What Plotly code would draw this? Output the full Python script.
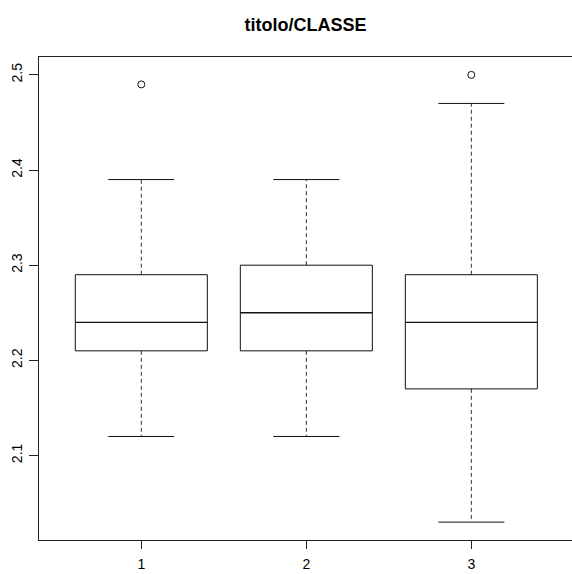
import plotly.graph_objects as go

# Five-number summaries per class
categories = [1, 2, 3]
lower_whisker = [2.12, 2.12, 2.03]
q1 = [2.21, 2.21, 2.17]
median = [2.24, 2.25, 2.24]
q3 = [2.29, 2.30, 2.29]
upper_whisker = [2.39, 2.39, 2.47]

# Points beyond the whiskers
outlier_x = [1, 3]
outlier_y = [2.49, 2.50]

y_ticks = [2.1, 2.2, 2.3, 2.4, 2.5]

BOX_HALF = 0.4
CAP_HALF = 0.2
LINE_COLOR = "#111111"
FONT = "Liberation Sans, Arial, Helvetica, sans-serif"

fig = go.Figure()

for i, c in enumerate(categories):
    # dashed whiskers
    fig.add_trace(go.Scatter(
        x=[c, c, None, c, c],
        y=[q3[i], upper_whisker[i], None, q1[i], lower_whisker[i]],
        mode="lines", line=dict(color="#333333", width=1, dash="4px,3px"),
        hoverinfo="skip", showlegend=False))
    # whisker caps
    fig.add_trace(go.Scatter(
        x=[c - CAP_HALF, c + CAP_HALF, None, c - CAP_HALF, c + CAP_HALF],
        y=[upper_whisker[i], upper_whisker[i], None, lower_whisker[i], lower_whisker[i]],
        mode="lines", line=dict(color=LINE_COLOR, width=1),
        hoverinfo="skip", showlegend=False))
    # box
    fig.add_trace(go.Scatter(
        x=[c - BOX_HALF, c + BOX_HALF, c + BOX_HALF, c - BOX_HALF, c - BOX_HALF],
        y=[q1[i], q1[i], q3[i], q3[i], q1[i]],
        mode="lines", line=dict(color=LINE_COLOR, width=1),
        hoverinfo="skip", showlegend=False))
    # median
    fig.add_trace(go.Scatter(
        x=[c - BOX_HALF, c + BOX_HALF],
        y=[median[i], median[i]],
        mode="lines", line=dict(color=LINE_COLOR, width=1.3),
        hoverinfo="skip", showlegend=False))

fig.add_trace(go.Scatter(
    x=outlier_x, y=outlier_y, mode="markers",
    marker=dict(symbol="circle-open", size=7, color=LINE_COLOR, line=dict(width=1)),
    hoverinfo="skip", showlegend=False))

fig.update_layout(
    width=572, height=574,
    margin=dict(l=39, r=0, t=57, b=34),
    paper_bgcolor="white", plot_bgcolor="white",
    font=dict(family=FONT, size=14, color="black"),
    title=dict(text="titolo/CLASSE", x=0.5, xref="paper", xanchor="center",
               y=1 - 24.5 / 574, yref="container", yanchor="middle",
               font=dict(family=FONT, size=18, color="black", weight="bold")),
    xaxis=dict(range=[0.38, 3.61], tickvals=categories, ticktext=[str(c) for c in categories],
               showgrid=False, zeroline=False, showline=True, mirror=True,
               linecolor="#222222", linewidth=1, ticks="outside", ticklen=8,
               tickcolor="#222222", tickfont=dict(size=14), ticklabelstandoff=3,
               automargin=False),
    yaxis=dict(range=[2.0112, 2.5188], tickvals=y_ticks, ticktext=[str(v) for v in y_ticks],
               showgrid=False, zeroline=False, showline=True, mirror=False,
               linecolor="#222222", linewidth=1, ticks="outside", ticklen=9,
               tickcolor="#222222", tickangle=-90, tickfont=dict(size=14),
               ticklabelstandoff=1, automargin=False),
)

fig.write_html("out.html")
